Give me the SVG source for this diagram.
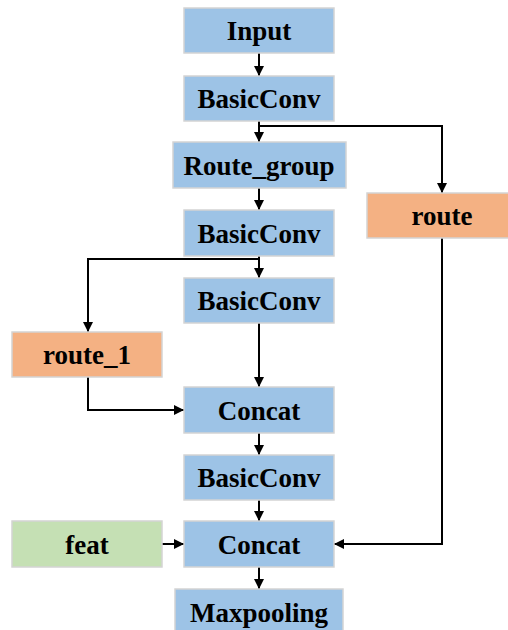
<svg xmlns="http://www.w3.org/2000/svg" width="508" height="630" viewBox="0 0 508 630">
<style>
.n rect{stroke:#d4d4d4;stroke-width:1.5}
.b{fill:#9DC3E6}.o{fill:#F4B183}.g{fill:#C5E0B4}
text{font-family:"Liberation Serif","Times New Roman",serif;font-weight:bold;font-size:27px;fill:#000;text-anchor:middle}
.c path{fill:none;stroke:#000;stroke-width:2}
</style>
<defs>
<marker id="a" viewBox="0 0 10 10" refX="10" refY="5" markerWidth="10" markerHeight="10" markerUnits="userSpaceOnUse" orient="auto">
<path d="M0,0L10,5L0,10z" fill="#000"/>
</marker>
</defs>
<rect width="508" height="630" fill="#fff"/>
<g class="c">
<path d="M259,53V76" marker-end="url(#a)"/>
<path d="M259,121V142" marker-end="url(#a)"/>
<path d="M259,126H442V193" marker-end="url(#a)"/>
<path d="M259,188V210" marker-end="url(#a)"/>
<path d="M259,256V278" marker-end="url(#a)"/>
<path d="M259,259H88V332" marker-end="url(#a)"/>
<path d="M259,323V387" marker-end="url(#a)"/>
<path d="M88,377V410H184" marker-end="url(#a)"/>
<path d="M259,433V455" marker-end="url(#a)"/>
<path d="M259,500V521" marker-end="url(#a)"/>
<path d="M162,544H184" marker-end="url(#a)"/>
<path d="M442,238V544H334" marker-end="url(#a)"/>
<path d="M259,567V589" marker-end="url(#a)"/>
</g>
<g id="input" class="n"><rect class="b" x="184" y="8" width="150" height="45"/><text x="259" y="40">Input</text></g>
<g id="basicconv1" class="n"><rect class="b" x="184" y="76" width="150" height="45"/><text x="259" y="108">BasicConv</text></g>
<g id="route_group" class="n"><rect class="b" x="173" y="142" width="173" height="46"/><text x="259" y="174.5">Route_group</text></g>
<g id="route" class="n"><rect class="o" x="367" y="193" width="150" height="45"/><text x="442" y="225">route</text></g>
<g id="basicconv2" class="n"><rect class="b" x="184" y="210" width="150" height="46"/><text x="259" y="242.5">BasicConv</text></g>
<g id="basicconv3" class="n"><rect class="b" x="184" y="278" width="150" height="45"/><text x="259" y="310">BasicConv</text></g>
<g id="route_1" class="n"><rect class="o" x="12" y="332" width="150" height="45"/><text x="87" y="364">route_1</text></g>
<g id="concat1" class="n"><rect class="b" x="184" y="387" width="150" height="46"/><text x="259" y="419.5">Concat</text></g>
<g id="basicconv4" class="n"><rect class="b" x="184" y="455" width="150" height="45"/><text x="259" y="487">BasicConv</text></g>
<g id="feat" class="n"><rect class="g" x="12" y="521" width="150" height="46"/><text x="87" y="553.5">feat</text></g>
<g id="concat2" class="n"><rect class="b" x="184" y="521" width="150" height="46"/><text x="259" y="553.5">Concat</text></g>
<g id="maxpooling" class="n"><rect class="b" x="175" y="589" width="168" height="45"/><text x="259" y="621.5">Maxpooling</text></g>
</svg>
